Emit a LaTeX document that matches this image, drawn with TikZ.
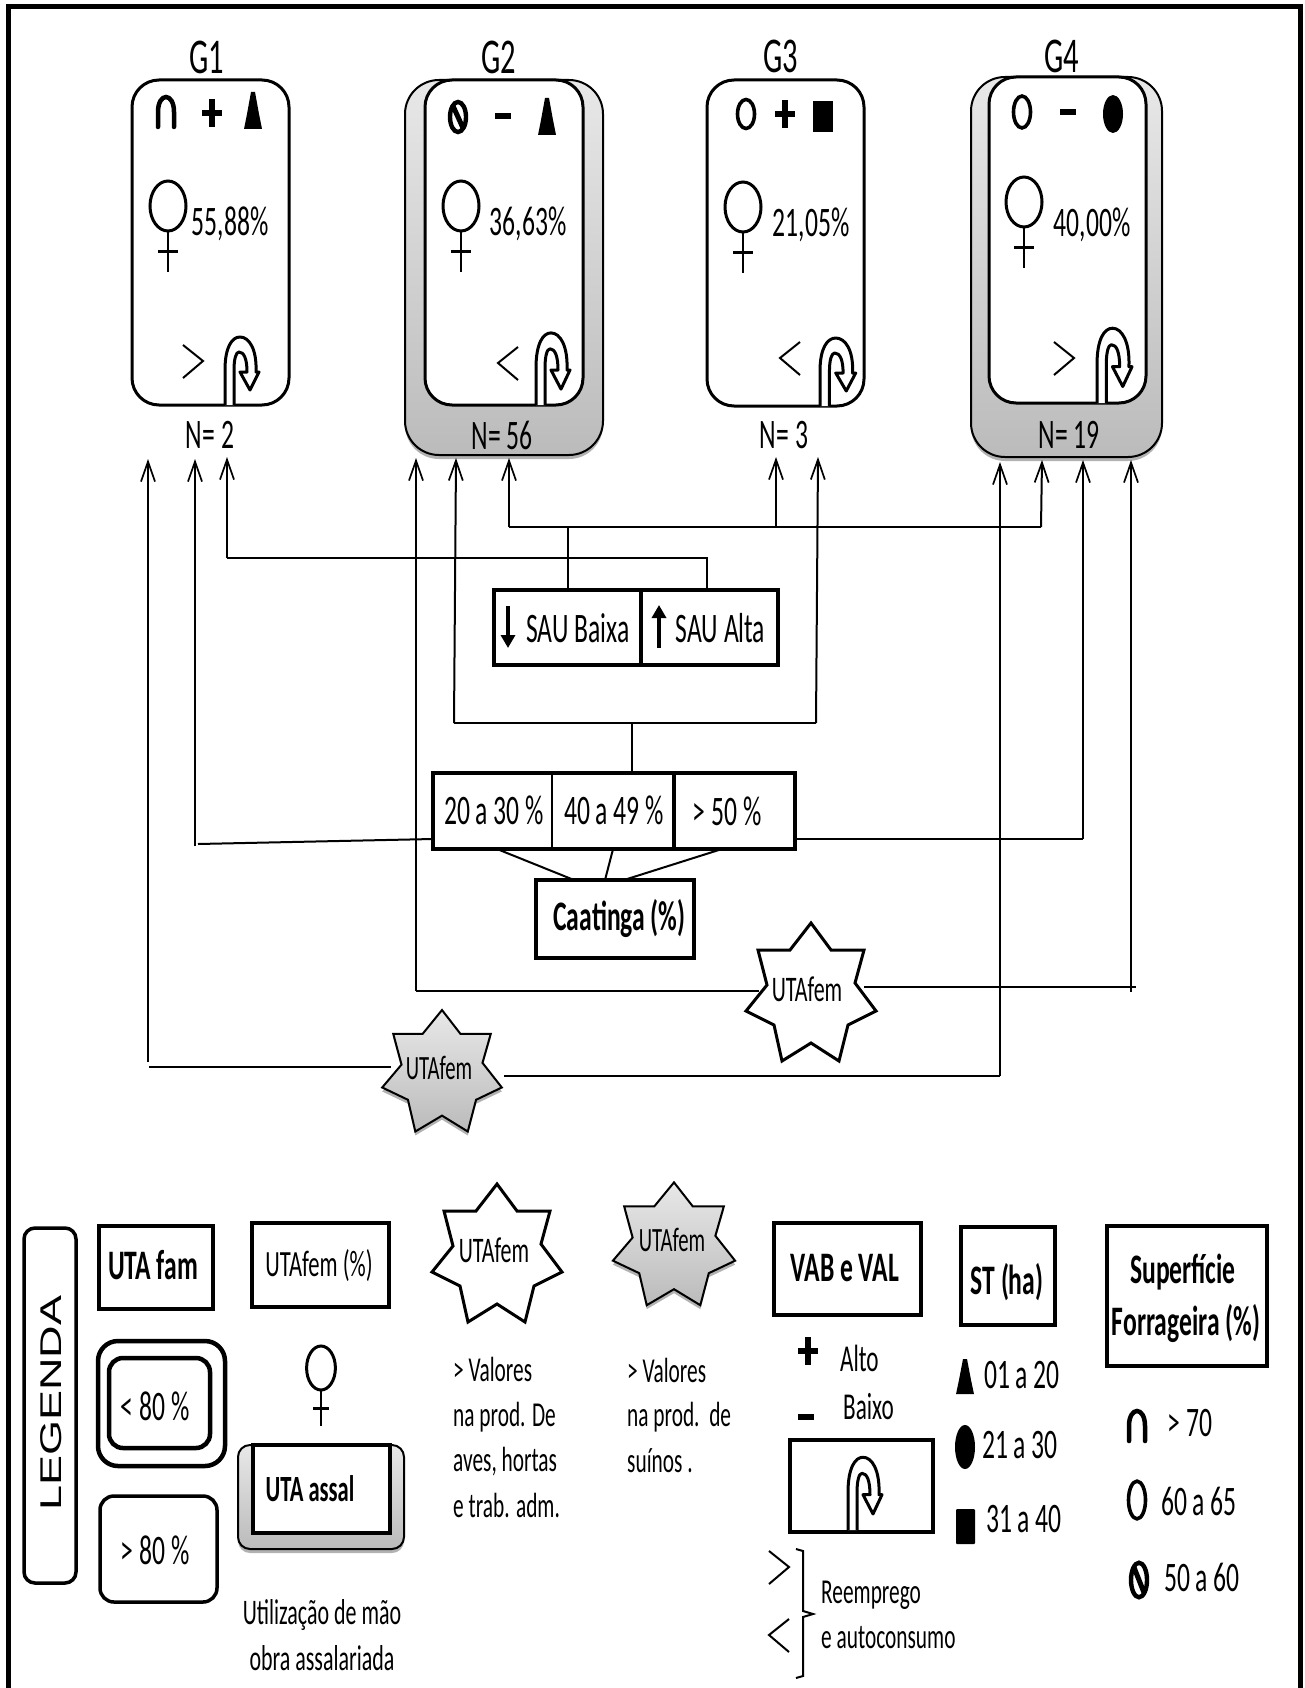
\documentclass[tikz,border=0pt]{standalone}
\usepackage{fontspec}
\setmainfont[FakeStretch=0.61]{Carlito}
\newfontfamily\legfont[FakeStretch=1.5]{Liberation Sans}
\usetikzlibrary{arrows.meta, shadows}
\definecolor{grtop}{HTML}{E8E8E8}
\definecolor{grbot}{HTML}{BBBBBB}
\tikzset{
  conn/.style={line width=2pt},
  arr/.style={conn, -{Straight Barb[length=20pt,width=14pt,line width=1.7pt]}},
  lab/.style={inner sep=0pt, font=\fontsize{42}{44}\selectfont},
  midlab/.style={inner sep=0pt, font=\fontsize{38}{40}\selectfont},
  noterow/.style={inner sep=0pt, anchor=base west, font=\fontsize{35}{37}\selectfont},
  boldlab/.style={inner sep=0pt, font=\fontsize{42}{44}\selectfont\bfseries},
  titlelab/.style={inner sep=0pt, font=\fontsize{50}{52}\selectfont},
  starlab/.style={inner sep=0pt, font=\fontsize{36}{38}\selectfont},
  tbox/.style 2 args={draw, line width=4.5pt, fill=white, inner sep=0pt, minimum width=#1pt, minimum height=#2pt},
  hollow/.style 2 args={inner sep=0pt, minimum width=#1pt, minimum height=#2pt},
  grpbox/.style 2 args={tbox={#1}{#2}, line width=3pt, rounded corners=27pt},
  shadebox/.style 2 args={tbox={#1}{#2}, line width=2pt, rounded corners=34pt, top color=grtop, bottom color=grbot,
    drop shadow={shadow xshift=0pt, shadow yshift=-4pt, fill=black, opacity=.3}},
  whitestar/.style={draw, line width=3pt, fill=white, miter limit=4},
  greystar/.style={draw, line width=2pt, top color=grtop, bottom color=grbot,
    drop shadow={shadow xshift=0pt, shadow yshift=-4pt, fill=black, opacity=.3}},
  pics/staricon/.style={code={
    \path[#1] (0,-67) -- (20,-40) -- (53,-40) -- (44,-7) -- (65,21) -- (37,35) -- (28,71) -- (0,53)
      -- (-29,71) -- (-37,35) -- (-65,21) -- (-44,-5) -- (-53,-40) -- (-21,-40) -- cycle;
  }},
  pics/femicon/.style={code={
    \draw[line width=3pt] (0,0) ellipse (18 and 25);
    \draw[line width=2.5pt] (0,25) -- (0,66);
    \draw[line width=3pt] (-10,46) -- (10,46);
  }},
  pics/uturn/.style={code={
    \draw[line width=3pt, fill=white, line join=round] (0,0) -- (0,-35)
      .. controls (0,-58) and (7,-68) .. (15,-68) .. controls (24,-68) and (32,-56) .. (31,-33)
      -- (34,-33) -- (25,-15) -- (15,-33) -- (22,-33)
      .. controls (22,-46) and (19,-53) .. (14,-53) .. controls (11,-53) and (9,-46) .. (9,-35) -- (9,0);
  }},
  pics/archicon/.style={code={
    \draw[line width=4.5pt, line cap=round] (-8,15) -- (-8,0)
      .. controls (-8,-10) and (-4,-15) .. (0,-15) .. controls (4,-15) and (8,-10) .. (8,0) -- (8,15);
  }},
  pics/ringicon/.style={code={
    \draw[line width=3.6pt] (0,0) ellipse (8.5 and 14.5);
  }},
  pics/banicon/.style={code={
    \draw[line width=4.4pt] (0,0) ellipse (8 and 15);
    \draw[line width=5pt] (-5,-11) -- (5,11);
  }},
  pics/cone/.style={code={
    \fill[line join=round] (-9,37) -- (9,37) -- (6,22) -- (2,0) -- (-2,0) -- (-6,22) -- cycle;
  }},
  pics/plusicon/.style={code={
    \fill (-3,-14) rectangle (3,14);
    \fill (-10,-3) rectangle (10,3);
  }},
  pics/minusicon/.style={code={
    \fill (-8,-3) rectangle (8,3);
  }},
  pics/moresign/.style={code={
    \draw[line width=2pt] (0,0) -- (20,16) -- (0,33);
  }},
  pics/lesssign/.style={code={
    \draw[line width=2pt] (20,0) -- (0,16) -- (20,33);
  }},
}

\begin{document}
\begin{tikzpicture}[x=1pt, y=-1pt]
  \useasboundingbox (0,0) rectangle (1305,1688);
  % moldura
  \draw[line width=5pt] (8,1688) -- (8,7) -- (1300,7) -- (1300,1688);

  % grupos
  \node[grpbox={157}{325}] (g1) at (210.5,242.5) {};
  \node[shadebox={198}{375}] (g2out) at (504,267.5) {};
  \node[grpbox={158}{325}] (g2) at (504,242.5) {};
  \node[grpbox={157}{326}] (g3) at (785.5,243) {};
  \node[shadebox={191}{380}] (g4out) at (1066.5,267) {};
  \node[grpbox={157}{326}] (g4) at (1067.5,240) {};

  \node[titlelab] (g1t) at (207,57) {G1};
  \node[titlelab] (g2t) at (499,57) {G2};
  \node[titlelab] (g3t) at (781,56) {G3};
  \node[titlelab] (g4t) at (1062,56) {G4};

  \pic at (166,112) {archicon};
  \pic at (212,113) {plusicon};
  \pic at (253,92) {cone};
  \pic at (458,117) {banicon};
  \pic at (503,116) {minusicon};
  \pic at (547,98) {cone};
  \pic at (746,114) {ringicon};
  \pic at (785,114) {plusicon};
  \fill (813,101) rectangle (833,132);
  \pic[yscale=1.1] at (1022,112) {ringicon};
  \pic at (1068,112) {minusicon};
  \fill (1113,114) ellipse (10 and 19);

  \pic at (168,206) {femicon};
  \pic at (461,206) {femicon};
  \pic at (743,207) {femicon};
  \pic at (1024,202) {femicon};
  \node[lab] (p1) at (230,224) {55,88\%};
  \node[lab] (p2) at (528,224) {36,63\%};
  \node[lab] (p3) at (811,225) {21,05\%};
  \node[lab] (p4) at (1092,225) {40,00\%};

  \pic at (183,345) {moresign};
  \pic at (498,347) {lesssign};
  \pic at (780,342) {lesssign};
  \pic at (1054,342) {moresign};
  \pic at (225,405) {uturn};
  \pic[yscale=1.06] at (536,405) {uturn};
  \pic[xscale=1.05, yscale=1.0] at (820,406) {uturn};
  \pic[xscale=1.03, yscale=1.1] at (1097,403) {uturn};

  \node[lab] (n1) at (210,435) {N= 2};
  \node[lab] (n2) at (502,435) {N= 56};
  \node[lab] (n3) at (784,435) {N= 3};
  \node[lab] (n4) at (1069,435) {N= 19};

  % SAU
  \node[tbox={147}{75}] (sb) at (567.5,627.5) {};
  \node[tbox={137}{75}] (sa) at (709.5,627.5) {};
  \node[lab] (sbt) at (578,628) {SAU Baixa};
  \node[lab] (sat) at (720.5,628) {SAU Alta};
  \draw[line width=3.5pt, -{Triangle[length=13pt,width=14pt]}] (508,606) -- (508,648);
  \draw[line width=3.5pt, -{Triangle[length=13pt,width=14pt]}] (659,648) -- (659,605);

  % Caatinga
  \node[hollow={119}{76}] (c1) at (492.5,811) {};
  \node[hollow={122}{76}] (c2) at (613,811) {};
  \node[hollow={121}{76}] (c3) at (734.5,811) {};
  \draw[line width=4.5pt] (c1.north west) rectangle (c3.south east);
  \draw[line width=2.5pt] (c1.north east) -- (c1.south east);
  \draw[line width=4.5pt] (c2.north east) -- (c2.south east);
  \node[lab] (c1t) at (494,810) {20 a 30 \%};
  \node[lab] (c2t) at (614,810) {40 a 49 \%};
  \node[lab] (c3t) at (727,811) {> 50 \%};
  \node[tbox={158}{78}] (caat) at (615,919) {};
  \node[boldlab] (caatt) at (619.5,918) {Caatinga (\%)};
  \coordinate (k0) at (497,849);
  \coordinate (k1) at (574,880);
  \coordinate (k2) at (605,880);
  \coordinate (k3) at (624,880);
  \coordinate (k3a) at (722,849);
  \draw[conn] (k0) -- (k1);
  \draw[conn] (c2.south) -- (k2);
  \draw[conn] (k3a) -- (k3);

  % pontas das setas
  \coordinate (a1) at (148,459);
  \coordinate (a2) at (195,459);
  \coordinate (a3) at (227,457);
  \coordinate (a4) at (416,458);
  \coordinate (a5) at (456,458);
  \coordinate (a6) at (509,458);
  \coordinate (a7) at (776,457);
  \coordinate (a8) at (818,457);
  \coordinate (a9) at (1000,462);
  \coordinate (a10) at (1042,460);
  \coordinate (a11) at (1083,460);
  \coordinate (a12) at (1131,460);

  % SAU -> grupos
  \coordinate (h1) at (509,527);
  \coordinate (h2) at (776,527);
  \coordinate (h3) at (1041,527);
  \coordinate (h4) at (227,558);
  \coordinate (h5) at (707,558);
  \draw[arr] (h1) -- (a6);
  \draw[arr] (h2) -- (a7);
  \draw[arr] (h3) -- (a10);
  \draw[conn] (h1) -- (h3);
  \draw[conn] (sb.north) -- (sb.north |- h1);
  \draw[arr] (h4) -- (a3);
  \draw[conn] (h4) -- (h5) -- (h5 |- sa.north);

  % Caatinga -> grupos
  \coordinate (m1) at (454,723);
  \coordinate (m2) at (816,723);
  \coordinate (m3) at (632,723);
  \draw[arr] (m1) -- (a5);
  \draw[arr] (m2) -- (a8);
  \draw[conn] (m1) -- (m2);
  \draw[conn] (m3) -- (m3 |- c2.north);
  \coordinate (l1) at (195,846);
  \coordinate (l2) at (198,844);
  \coordinate (l3) at (433,839);
  \coordinate (r1) at (795,839);
  \coordinate (r2) at (1083,839);
  \draw[arr] (l1) -- (a2);
  \draw[conn] (l2) -- (l3);
  \draw[arr] (r2) -- (a11);
  \draw[conn] (r1) -- (r2);

  % UTAfem
  \coordinate (u1) at (416,991);
  \coordinate (u1e) at (759,991);
  \coordinate (u2) at (1136,987);
  \coordinate (u2e) at (864,987);
  \coordinate (u3) at (1131,992);
  \coordinate (v1) at (148,1062);
  \coordinate (v2) at (149,1067);
  \coordinate (v2e) at (391,1067);
  \coordinate (v3) at (1000,1076);
  \coordinate (v3e) at (504,1076);
  \draw[arr] (u1) -- (a4);
  \draw[arr] (u3) -- (a12);
  \draw[arr] (v1) -- (a1);
  \draw[arr] (v3) -- (a9);
  \draw[conn, line width=2.6pt] (u1) -- (u1e);
  \draw[conn, line width=2.6pt] (u2) -- (u2e);
  \draw[conn, line width=2.6pt] (v2) -- (v2e);
  \draw[conn, line width=2.6pt] (v3e) -- (v3);
  \pic at (811,990) {staricon={whitestar}};
  \node[starlab] (ufw) at (807,989) {UTAfem};
  \pic[xscale=.92, yscale=.88] at (442,1069) {staricon={greystar}};
  \node[starlab, font=\fontsize{34}{36}\selectfont] (ufg) at (439,1068) {UTAfem};

  % legenda
  \node[draw, line width=3.5pt, rounded corners=11pt, inner sep=0pt, minimum width=52pt, minimum height=355pt] (leg) at (50,1405.5) {};
  \node[rotate=90, inner sep=0pt, font=\legfont\fontsize{30}{32}\selectfont] (legt) at (51,1403) {LEGENDA};

  \node[tbox={114}{83}] (bfam) at (156,1267.5) {};
  \node[boldlab] (bfamt) at (153,1265) {UTA fam};
  \node[tbox={137}{84}] (bfem) at (320.5,1265) {};
  \node[midlab, font=\fontsize{37}{39}\selectfont] (bfemt) at (319,1266) {UTAfem (\%)};

  \node[tbox={127}{125}, rounded corners=20pt] (lo) at (161.5,1403.5) {};
  \node[tbox={101}{90}, rounded corners=14pt] (li) at (159.5,1403) {};
  \node[lab] (lit) at (155,1406) {< 80 \%};
  \node[tbox={117}{106}, rounded corners=14pt, line width=3.5pt] (hi) at (158.5,1549) {};
  \node[lab] (hit) at (155,1550) {> 80 \%};

  \pic[xscale=.8, yscale=.88] at (321,1368) {femicon};
  \node[shadebox={166}{104}, rounded corners=12pt] (asso) at (321,1497) {};
  \node[tbox={137}{88}] (assi) at (321.5,1489) {};
  \node[boldlab, font=\fontsize{37}{39}\selectfont\bfseries] (asst) at (310,1489) {UTA assal};
  \node[midlab, font=\fontsize{36}{38}\selectfont] (ut1) at (322,1615) {Utilização de mão};
  \node[midlab, font=\fontsize{36}{38}\selectfont] (ut2) at (322,1658) {obra assalariada};

  \pic at (497,1251) {staricon={whitestar}};
  \node[starlab] (lsw) at (494,1250) {UTAfem};
  \node[noterow] (nw1) at (453,1381) {> Valores};
  \node[noterow] (nw2) at (453,1426) {na prod. De};
  \node[noterow] (nw3) at (453,1471) {aves, hortas};
  \node[noterow] (nw4) at (453,1517) {e trab. adm.};

  \pic[xscale=.94, yscale=.89] at (674,1242) {staricon={greystar}};
  \node[starlab, font=\fontsize{34}{36}\selectfont] (lsg) at (672,1240) {UTAfem};
  \node[noterow] (ng1) at (627,1382) {> Valores};
  \node[noterow] (ng2) at (627,1426) {na prod.\ \ de};
  \node[noterow] (ng3) at (627,1472) {suínos .};

  \node[tbox={147}{92}] (vab) at (847.5,1269) {};
  \node[boldlab] (vabt) at (845,1268) {VAB e VAL};
  \pic at (808,1351) {plusicon};
  \node[midlab, anchor=west] (alto) at (840,1358) {Alto};
  \pic at (806,1417) {minusicon};
  \node[midlab, anchor=west] (baixo) at (843,1407) {Baixo};
  \node[tbox={143}{92}] (ubox) at (861.5,1486) {};
  \pic[yscale=1.07] at (848,1530) {uturn};

  \pic at (769,1551) {moresign};
  \pic at (769,1619) {lesssign};
  \draw[line width=2pt] (796,1549) -- (803,1551) -- (803,1611) -- (813,1614) -- (803,1617) -- (803,1676) -- (796,1678);
  \node[noterow] (re1) at (821,1603) {Reemprego};
  \node[noterow] (re2) at (821,1648) {e autoconsumo};

  \node[tbox={94}{98}] (st) at (1008,1276) {};
  \node[boldlab] (stt) at (1007,1282) {ST (ha)};
  \pic[yscale=.95] at (965,1359) {cone};
  \node[lab] (st1) at (1022,1375) {01 a 20};
  \fill (965,1447) ellipse (10 and 22);
  \node[lab] (st2) at (1020,1445) {21 a 30};
  \fill[rounded corners=1pt] (956,1509) rectangle (975,1544);
  \node[lab] (st3) at (1024,1519) {31 a 40};

  \node[tbox={160}{140}] (sf) at (1187,1296) {};
  \node[boldlab] (sf1) at (1183,1272) {Superfície};
  \node[boldlab] (sf2) at (1186,1323) {Forrageira (\%)};
  \pic at (1137,1426) {archicon};
  \node[lab] (sf3) at (1190,1423) {> 70};
  \pic[yscale=1.3] at (1137,1500) {ringicon};
  \node[lab] (sf4) at (1199,1501) {60 a 65};
  \pic[yscale=1.15] at (1139,1580) {banicon};
  \node[lab] (sf5) at (1202,1577) {50 a 60};
\end{tikzpicture}
\end{document}
